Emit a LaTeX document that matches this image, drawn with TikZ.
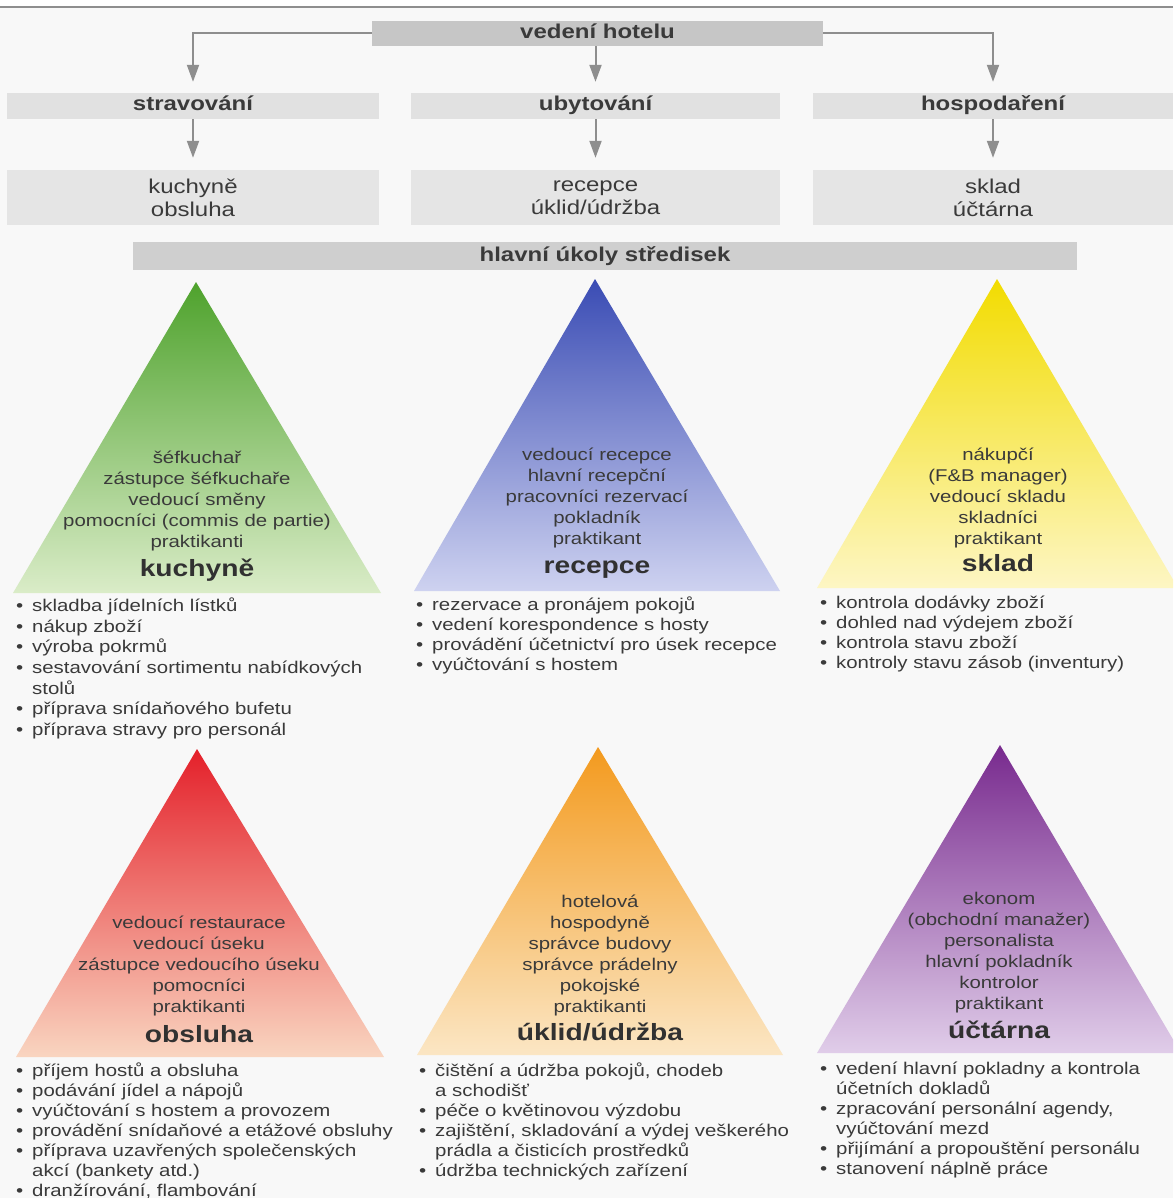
\documentclass[tikz,border=0pt]{standalone}
\usepackage{fontspec}
\setmainfont[FakeStretch=1.2]{Liberation Sans}
\usetikzlibrary{arrows.meta}
\definecolor{bg}{HTML}{F8F8F8}
\definecolor{boxtop}{HTML}{C6C6C6}
\definecolor{boxmid}{HTML}{E1E1E1}
\definecolor{boxlow}{HTML}{E5E5E5}
\definecolor{boxkey}{HTML}{CFCFCF}
\definecolor{argray}{HTML}{8E8E8E}
\definecolor{txt}{HTML}{3A3A3A}
\newcommand\bpt{\makebox[16pt][l]{•}}
\newcommand\bind{\hspace*{16pt}}
\begin{document}
\begin{tikzpicture}[x=1pt,y=-1pt,
  head/.style={inner sep=0pt, text=txt, font=\fontsize{20}{24}\selectfont\bfseries, text height=14pt, text depth=4pt},
  lowbox/.style={fill=boxlow, inner sep=0pt, text=txt, align=center, font=\fontsize{20}{23}\selectfont},
  conn/.style={draw=argray, line width=2pt, -{Triangle[width=12pt,length=17pt]}},
  roles/.style={inner sep=0pt, text=txt, align=center, font=\fontsize{17}{21}\selectfont},
  ttl/.style={inner sep=0pt, text=txt!85!black, font=\fontsize{23.5}{28}\selectfont\bfseries, text height=17pt, text depth=5pt},
  blist/.style={inner sep=0pt, anchor=west, text=txt, align=left, font=\fontsize{17}{20.6}\selectfont},
  blistb/.style={blist, font=\fontsize{17}{20}\selectfont}]
\useasboundingbox (0,0) rectangle (1173,1198);
\clip (0,0) rectangle (1173,1198);
\fill[bg] (0,0) rectangle (1173,1198);
\fill[white] (0,0) rectangle (1173,7);
\draw[argray, line width=1.5pt] (0,7) -- (1173,7);

% top level
\node[head, fill=boxtop, minimum width=451pt, minimum height=25pt] (top) at (597.5,33.5) {vedení hotelu};
% second level
\node[head, fill=boxmid, minimum width=372pt, minimum height=26pt] (s2) at (193,106) {stravování};
\node[head, fill=boxmid, minimum width=369pt, minimum height=26pt] (u2) at (595.5,106) {ubytování};
\node[head, fill=boxmid, minimum width=360pt, minimum height=26pt] (h2) at (993,106) {hospodaření};
% third level
\node[lowbox, minimum width=372pt, minimum height=55pt] (s3) at (193,197.5) {kuchyně\\obsluha};
\node[lowbox, minimum width=369pt, minimum height=55pt] (u3) at (595.5,197.5) {recepce\\úklid/údržba};
\node[lowbox, minimum width=360pt, minimum height=55pt] (h3) at (993,197.5) {sklad\\účtárna};
% key bar
\node[head, fill=boxkey, minimum width=944pt, minimum height=28pt] (key) at (605,256) {hlavní úkoly středisek};

% connectors
\draw[conn, shorten >=11pt] (top.west) -| (s2.north);
\draw[conn, shorten >=11pt] (u2.north |- top.south) -- (u2.north);
\draw[conn, shorten >=11pt] (top.east) -| (h2.north);
\draw[conn, shorten >=12pt] (s2.south) -- (s3.north);
\draw[conn, shorten >=12pt] (u2.south) -- (u3.north);
\draw[conn, shorten >=12pt] (h2.south) -- (h3.north);

% triangles
\shade[top color={rgb,255:red,78;green,162;blue,44}, bottom color={rgb,255:red,218;green,236;blue,200}] (196,282) -- (381,593) -- (13,593) -- cycle;
\shade[top color={rgb,255:red,58;green,76;blue,180}, bottom color={rgb,255:red,206;green,210;blue,240}] (595,279) -- (780,591) -- (414,591) -- cycle;
\shade[top color={rgb,255:red,242;green,220;blue,0}, bottom color={rgb,255:red,253;green,246;blue,196}] (997,279) -- (1178,588) -- (817,588) -- cycle;
\shade[top color={rgb,255:red,228;green,32;blue,42}, bottom color={rgb,255:red,249;green,213;blue,192}] (197,749) -- (384,1057) -- (16,1057) -- cycle;
\shade[top color={rgb,255:red,243;green,154;blue,30}, bottom color={rgb,255:red,251;green,230;blue,196}] (598,747) -- (783,1055) -- (417,1055) -- cycle;
\shade[top color={rgb,255:red,120;green,42;blue,142}, bottom color={rgb,255:red,224;green,205;blue,233}] (1000,745) -- (1181,1053) -- (817,1053) -- cycle;

% triangle texts
\node[roles] (kr) at (197,501) {šéfkuchař\\zástupce šéfkuchaře\\vedoucí směny\\pomocníci (commis de partie)\\praktikanti};
\node[ttl] (kt) at (197,570) {kuchyně};
\node[roles] (rr) at (597,497.5) {vedoucí recepce\\hlavní recepční\\pracovníci rezervací\\pokladník\\praktikant};
\node[ttl] (rt) at (597,567) {recepce};
\node[roles] (sr) at (998,497.5) {nákupčí\\(F\&B manager)\\vedoucí skladu\\skladníci\\praktikant};
\node[ttl] (st) at (998,565) {sklad};
\node[roles] (or) at (199,966) {vedoucí restaurace\\vedoucí úseku\\zástupce vedoucího úseku\\pomocníci\\praktikanti};
\node[ttl] (ot) at (199,1036) {obsluha};
\node[roles] (ur) at (600,955) {hotelová\\hospodyně\\správce budovy\\správce prádelny\\pokojské\\praktikanti};
\node[ttl] (ut) at (600,1034) {úklid/údržba};
\node[roles] (ar) at (999,953) {ekonom\\(obchodní manažer)\\personalista\\hlavní pokladník\\kontrolor\\praktikant};
\node[ttl] (at) at (999,1032) {účtárna};

% bullet lists
\node[blist] (kl) at (16,668.5) {\bpt skladba jídelních lístků\\\bpt nákup zboží\\\bpt výroba pokrmů\\\bpt sestavování sortimentu nabídkových\\\bind stolů\\\bpt příprava snídaňového bufetu\\\bpt příprava stravy pro personál};
\node[blistb] (rl) at (416,635.5) {\bpt rezervace a pronájem pokojů\\\bpt vedení korespondence s hosty\\\bpt provádění účetnictví pro úsek recepce\\\bpt vyúčtování s hostem};
\node[blistb] (sl) at (820,633.5) {\bpt kontrola dodávky zboží\\\bpt dohled nad výdejem zboží\\\bpt kontrola stavu zboží\\\bpt kontroly stavu zásob (inventury)};
\node[blistb] (ol) at (16,1131) {\bpt příjem hostů a obsluha\\\bpt podávání jídel a nápojů\\\bpt vyúčtování s hostem a provozem\\\bpt provádění snídaňové a etážové obsluhy\\\bpt příprava uzavřených společenských\\\bind akcí (bankety atd.)\\\bpt dranžírování, flambování};
\node[blistb] (ul) at (419,1121) {\bpt čištění a údržba pokojů, chodeb\\\bind a schodišť\\\bpt péče o květinovou výzdobu\\\bpt zajištění, skladování a výdej veškerého\\\bind prádla a čisticích prostředků\\\bpt údržba technických zařízení};
\node[blistb] (al) at (820,1119.5) {\bpt vedení hlavní pokladny a kontrola\\\bind účetních dokladů\\\bpt zpracování personální agendy,\\\bind vyúčtování mezd\\\bpt přijímání a propouštění personálu\\\bpt stanovení náplně práce};
\end{tikzpicture}
\end{document}
